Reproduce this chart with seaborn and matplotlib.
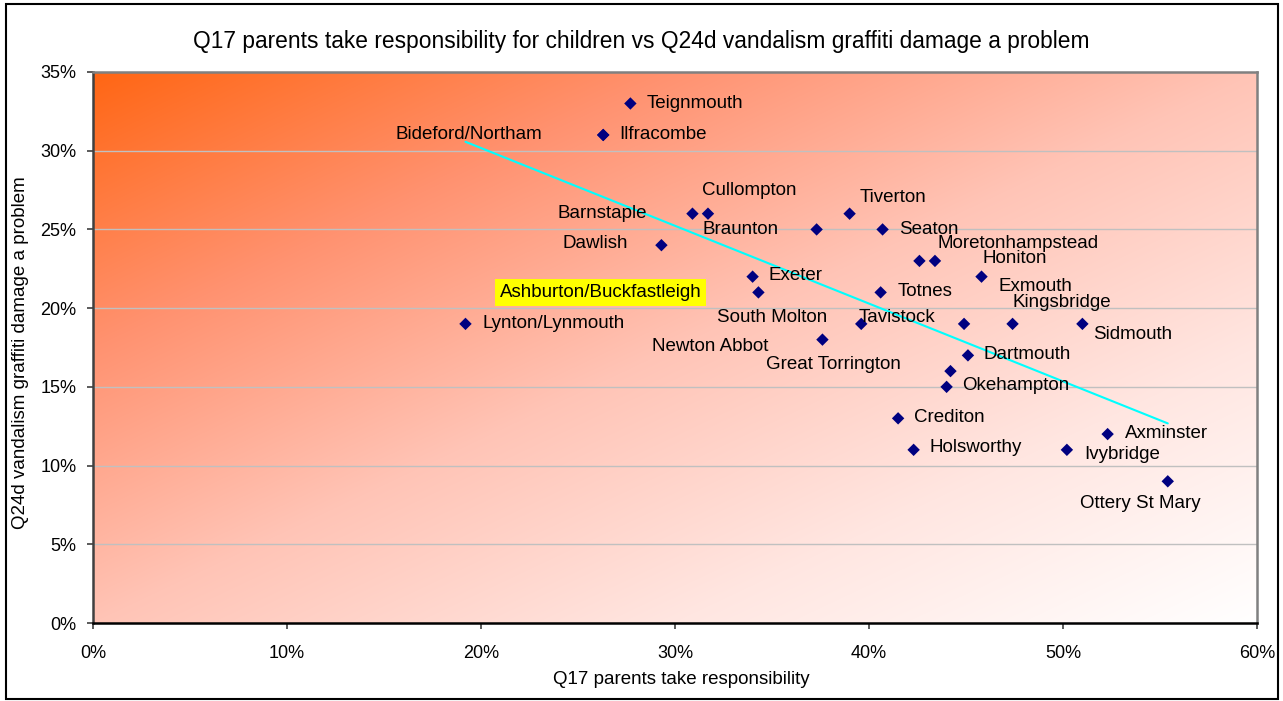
import numpy as np
import pandas as pd
import matplotlib
matplotlib.use("Agg")
import matplotlib.pyplot as plt
from matplotlib.ticker import PercentFormatter, MultipleLocator
from matplotlib.patches import Rectangle
import seaborn as sns

# ---------------- data ----------------
towns = ["Teignmouth", "Ilfracombe", "Bideford/Northam", "Barnstaple", "Cullompton",
         "Braunton", "Dawlish", "Exeter", "Ashburton/Buckfastleigh", "Lynton/Lynmouth",
         "Newton Abbot", "Tiverton", "Seaton", "Moretonhampstead", "Honiton", "Exmouth",
         "Totnes", "South Molton", "Tavistock", "Kingsbridge", "Sidmouth", "Dartmouth",
         "Great Torrington", "Okehampton", "Crediton", "Holsworthy", "Ivybridge",
         "Axminster", "Ottery St Mary"]
parents_resp = [27.7, 26.3, 26.3, 30.9, 31.7,
                37.3, 29.3, 34.0, 34.3, 19.2,
                37.6, 39.0, 40.7, 42.6, 43.4, 45.8,
                40.6, 39.6, 44.9, 47.4, 51.0, 45.1,
                44.2, 44.0, 41.5, 42.3, 50.2,
                52.3, 55.4]
vandalism = [33, 31, 31, 26, 26,
             25, 24, 22, 21, 19,
             18, 26, 25, 23, 23, 22,
             21, 19, 19, 19, 19, 17,
             16, 15, 13, 11, 11,
             12, 9]
x_ticks = [0, 10, 20, 30, 40, 50, 60]
y_ticks = [0, 5, 10, 15, 20, 25, 30, 35]

title = "Q17 parents take responsibility for children vs Q24d vandalism graffiti damage a problem"
x_label = "Q17 parents take responsibility"
y_label = "Q24d vandalism graffiti damage a problem"

df = pd.DataFrame({"town": towns, "x": parents_resp, "y": vandalism})

# label placement (pixel offsets from the point; ha)
label_pos = {
    "Teignmouth": (16, 0, "left"), "Ilfracombe": (16, 0, "left"),
    "Bideford/Northam": (-61, 0, "right"), "Barnstaple": (-45, 0, "right"),
    "Cullompton": (-6, 23, "left"), "Braunton": (-38, 0, "right"),
    "Dawlish": (-33, 2, "right"), "Exeter": (16, 1, "left"),
    "Ashburton/Buckfastleigh": (-57, 0, "right"), "Lynton/Lynmouth": (17, 0, "left"),
    "Newton Abbot": (-54, -7, "right"), "Tiverton": (10, 16, "left"),
    "Seaton": (17, 0, "left"), "Moretonhampstead": (18, 17, "left"),
    "Honiton": (48, 2, "left"), "Exmouth": (17, -10, "left"),
    "Totnes": (17, 1, "left"), "South Molton": (-34, 6, "right"),
    "Tavistock": (-29, 6, "right"), "Kingsbridge": (0, 21, "left"),
    "Sidmouth": (11, -11, "left"), "Dartmouth": (16, 1, "left"),
    "Great Torrington": (-50, 7, "right"), "Okehampton": (16, 1, "left"),
    "Crediton": (16, 1, "left"), "Holsworthy": (16, 2, "left"),
    "Ivybridge": (17, -5, "left"), "Axminster": (17, 1, "left"),
    "Ottery St Mary": (-27, -22, "center"),
}

# ---------------- style ----------------
sns.set_theme(style="white")
plt.rcParams["font.family"] = ["Liberation Sans", "DejaVu Sans"]

W, H = 1283, 701
fig = plt.figure(figsize=(W / 100, H / 100), dpi=100)
fig.patch.set_facecolor("white")
ax = fig.add_axes([93 / W, 1 - 623 / H, (1257 - 93) / W, (623 - 72) / H])

# gradient background
ny, nx = 300, 600
u = np.linspace(0, 1, nx)[None, :]
r = np.linspace(0, 1, ny)[:, None]
t = (u + r) / 2.0
stops = np.array([0.0, 0.25, 0.5, 0.75, 1.0])
cols = np.array([[255, 102, 20], [255, 146, 112], [255, 196, 182],
                 [255, 230, 225], [255, 255, 255]]) / 255.0
img = np.stack([np.interp(t, stops, cols[:, k]) for k in range(3)], axis=-1)
ax.imshow(img, extent=(0, 60, 0, 35), aspect="auto", origin="upper", zorder=0,
          interpolation="bilinear")

ax.set_xlim(0, 60)
ax.set_ylim(0, 35)
for yv in y_ticks[1:-1]:
    ax.axhline(yv, color="#c0c0c0", lw=1.0, zorder=1)

sns.regplot(data=df, x="x", y="y", scatter=False, ci=None, truncate=True,
            line_kws=dict(color="#00ffff", lw=1.5, zorder=2), ax=ax)
sns.scatterplot(data=df, x="x", y="y", marker="D", color="#000080", s=40,
                edgecolor="none", zorder=3, ax=ax)

for name, xv, yv in zip(towns, parents_resp, vandalism):
    dx, dy, ha = label_pos[name]
    kw = {}
    if name == "Ashburton/Buckfastleigh":
        kw["bbox"] = dict(boxstyle="square,pad=0.25", fc="#ffff00", ec="none")
    ax.annotate(name, (xv, yv), xytext=(dx, dy), textcoords="offset pixels",
                ha=ha, va="center", fontsize=13.5, color="black", zorder=4, **kw)

ax.xaxis.set_major_locator(MultipleLocator(10))
ax.yaxis.set_major_locator(MultipleLocator(5))
ax.xaxis.set_major_formatter(PercentFormatter(xmax=100, decimals=0))
ax.yaxis.set_major_formatter(PercentFormatter(xmax=100, decimals=0))
ax.set_xticks(x_ticks)
ax.set_yticks(y_ticks)
ax.tick_params(axis="both", which="major", direction="out", length=4, width=1.2,
               labelsize=13, color="#404040", labelcolor="black")
ax.tick_params(axis="y", pad=8, left=True)
ax.tick_params(axis="x", pad=12, bottom=True)

ax.spines["left"].set_color("#404040")
ax.spines["left"].set_linewidth(1.8)
ax.spines["bottom"].set_color("black")
ax.spines["bottom"].set_linewidth(1.8)
ax.spines["top"].set_color("#808080")
ax.spines["top"].set_linewidth(1.8)
ax.spines["right"].set_color("#808080")
ax.spines["right"].set_linewidth(1.8)

ax.set_xlabel(x_label, fontsize=13.5, color="black")
ax.set_ylabel(y_label, fontsize=13.5, color="black")
ax.xaxis.set_label_coords(0.505, -0.087)
ax.yaxis.set_label_coords(-0.055, 0.49)
ax.set_title(title, fontsize=16.4, color="black", x=0.471, pad=17)

fig.patches.append(Rectangle((6 / W, 2 / H), (1278 - 6) / W, (694 - 2 + 3) / H,
                             transform=fig.transFigure, fill=False, ec="black",
                             lw=1.5, zorder=10))

fig.savefig("out.png", dpi=100, facecolor="white")
